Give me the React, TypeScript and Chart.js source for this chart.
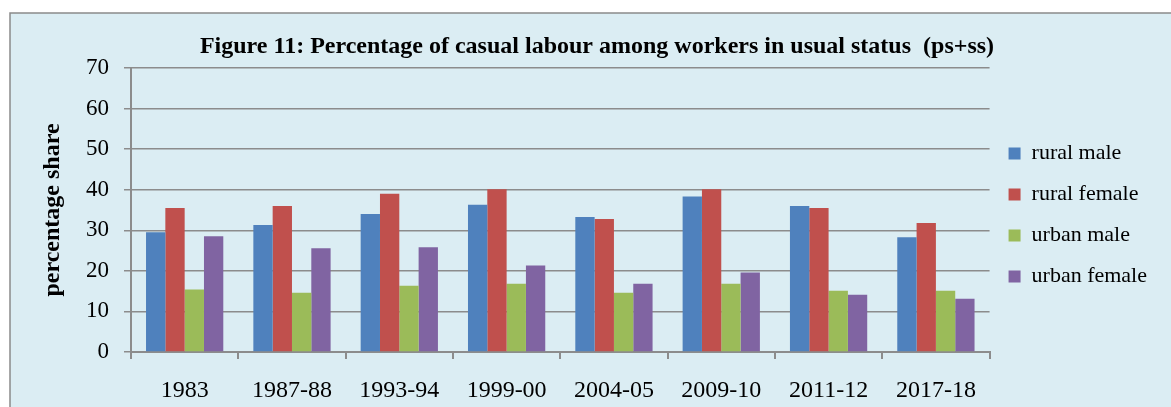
import React, { useEffect, useRef } from "react";
import { Chart, registerables } from "chart.js";

Chart.register(...registerables);

const categories = ["1983", "1987-88", "1993-94", "1999-00", "2004-05", "2009-10", "2011-12", "2017-18"];
const ruralMale = [29.5, 31.3, 34.0, 36.3, 33.3, 38.3, 36.0, 28.3];
const ruralFemale = [35.5, 36.0, 39.0, 40.1, 32.8, 40.1, 35.5, 31.8];
const urbanMale = [15.4, 14.6, 16.3, 16.8, 14.6, 16.8, 15.1, 15.1];
const urbanFemale = [28.5, 25.6, 25.8, 21.3, 16.8, 19.6, 14.1, 13.1];
const seriesNames = ["rural male", "rural female", "urban male", "urban female"];
const seriesColors = ["#4F81BD", "#C0504D", "#9BBB59", "#8064A2"];
const titleText = "Figure 11: Percentage of casual labour among workers in usual status  (ps+ss)";
const yTitle = "percentage share";

const SERIF = "'Liberation Serif', 'Times New Roman', serif";
const GRID = "#8c8c8c";

const backgroundPlugin = {
  id: "panelBackground",
  beforeDraw(chart: any) {
    const { ctx, width, height } = chart;
    ctx.save();
    ctx.fillStyle = "#ffffff";
    ctx.fillRect(0, 0, width, height);
    ctx.fillStyle = "#DBEDF3";
    ctx.fillRect(10, 13, width - 10, height - 13);
    ctx.strokeStyle = "#8a8a8a";
    ctx.lineWidth = 1.5;
    ctx.beginPath();
    ctx.moveTo(10, height + 5);
    ctx.lineTo(10, 13);
    ctx.lineTo(width + 5, 13);
    ctx.stroke();
    ctx.restore();
  },
};

export default function App() {
  const ref = useRef<HTMLCanvasElement | null>(null);

  useEffect(() => {
    if (!ref.current) return;
    const dataSeries = [ruralMale, ruralFemale, urbanMale, urbanFemale];
    const chart = new Chart(ref.current, {
      type: "bar",
      data: {
        labels: categories,
        datasets: dataSeries.map((d, i) => ({
          label: seriesNames[i],
          data: d,
          backgroundColor: seriesColors[i],
          borderWidth: 0,
          categoryPercentage: 0.72,
          barPercentage: 1.0,
        })),
      },
      options: {
        responsive: false,
        animation: false,
        devicePixelRatio: 1,
        layout: { padding: { left: 37, right: 14, top: 0, bottom: 0 } },
        plugins: {
          title: {
            display: true,
            text: titleText,
            color: "#000",
            font: { family: SERIF, size: 24, weight: "bold" },
            padding: { top: 32, bottom: 7.2 },
          },
          legend: {
            position: "right",
            fullSize: false,
            align: "center",
            title: {
              display: true,
              text: "",
              font: { family: SERIF, size: 8 },
              padding: { top: 0, bottom: 0.4 },
            },
            labels: {
              boxWidth: 12,
              boxHeight: 12,
              padding: 19,
              color: "#000",
              font: { family: SERIF, size: 22 },
            },
          },
          tooltip: { enabled: false },
        },
        scales: {
          x: {
            afterFit: (s: any) => {
              s.height = 55;
            },
            grid: {
              display: true,
              drawOnChartArea: false,
              drawTicks: true,
              tickLength: 7,
              offset: true,
              color: GRID,
              lineWidth: 2,
            },
            border: { display: true, color: GRID, width: 2 },
            ticks: {
              color: "#000",
              font: { family: SERIF, size: 24 },
              padding: 17,
              maxRotation: 0,
            },
          },
          y: {
            min: 0,
            max: 70,
            afterFit: (s: any) => {
              s.width = 94;
            },
            grid: {
              color: GRID,
              lineWidth: 1.5,
              tickLength: 7,
              drawTicks: true,
            },
            border: { display: true, color: GRID, width: 2 },
            ticks: {
              stepSize: 10,
              color: "#000",
              font: { family: SERIF, size: 23 },
              padding: 15,
            },
            title: {
              display: true,
              text: yTitle,
              color: "#000",
              font: { family: SERIF, size: 24, weight: "bold" },
              padding: { top: 1.6, bottom: 0 },
            },
          },
        },
      },
      plugins: [backgroundPlugin],
    });
    return () => chart.destroy();
  }, []);

  return (
    <div style={{ position: "absolute", left: 0, top: 0, width: 1171, height: 407, overflow: "hidden" }}>
      <canvas ref={ref} width={1171} height={407} style={{ display: "block" }} />
    </div>
  );
}
